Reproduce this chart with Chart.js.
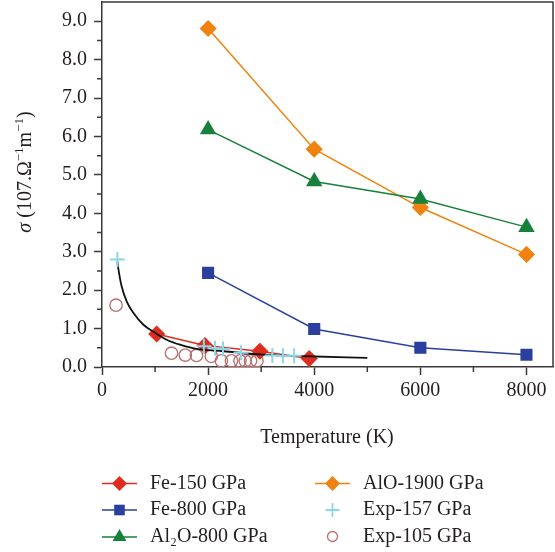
<!DOCTYPE html>
<html><head><meta charset="utf-8">
<script src="https://cdn.jsdelivr.net/npm/chart.js@4.4.1/dist/chart.umd.min.js"></script>
<style>html,body{margin:0;padding:0;background:#fff;}#wrap{width:555px;height:552px;position:relative;}</style>
</head><body><div id="wrap"><canvas id="c" width="555" height="552"></canvas></div>
<script>
// ---- data ----
const fe150T = [1030, 1940, 2975, 3905];
const fe150S = [0.86, 0.56, 0.41, 0.22];
const fe800T = [2000, 4000, 6000, 8000];
const fe800S = [2.45, 0.99, 0.50, 0.32];
const al2o800T = [2000, 4000, 6000, 8000];
const al2o800S = [6.18, 4.83, 4.37, 3.64];
const alo1900T = [2000, 4000, 6000, 8000];
const alo1900S = [8.81, 5.67, 4.15, 2.93];
const exp157T = [290, 1920, 2130, 2280, 2620, 3210, 3410, 3620];
const exp157S = [2.80, 0.54, 0.49, 0.47, 0.37, 0.30, 0.29, 0.29];
const exp105T = [265, 1310, 1570, 1780, 2060, 2250, 2440, 2600, 2700, 2800, 2920];
const exp105S = [1.61, 0.36, 0.31, 0.30, 0.28, 0.16, 0.16, 0.16, 0.16, 0.16, 0.16];
const fitT = [290, 310, 370, 465, 590, 780, 1000, 1220, 1470, 1780, 2290, 3040, 3860, 5000];
const fitS = [2.75, 2.54, 2.10, 1.71, 1.41, 1.10, 0.89, 0.71, 0.58, 0.47, 0.41, 0.32, 0.28, 0.235];
const xTickValues = [0, 2000, 4000, 6000, 8000];
const yTickValues = [0, 1, 2, 3, 4, 5, 6, 7, 8, 9];
const seriesNames = ['Fe-150 GPa', 'Fe-800 GPa', 'Al₂O-800 GPa', 'AlO-1900 GPa', 'Exp-157 GPa', 'Exp-105 GPa'];
const xTitle = 'Temperature (K)';

const pts = (xs, ys) => xs.map((x, i) => ({x: x, y: ys[i]}));
const SERIF = '"Liberation Serif", "Times New Roman", serif';
const AXIS = '#3a3a3a';
const TXT = '#231f20';

const C_RED = '#de2d1e', C_BLUE = '#2b3f9f', C_GREEN = '#17803a', C_ORANGE = '#f08210', C_CYAN = '#8ed6e6', C_ROSE = '#b9706e';

const datasets = [
  {label: 'fit', data: pts(fitT, fitS), showLine: true, borderColor: '#111', borderWidth: 1.8, pointRadius: 0, cubicInterpolationMode: 'monotone', order: 1},
  {label: seriesNames[4], data: pts(exp157T, exp157S), showLine: false, pointStyle: 'cross', pointRadius: 7.5, borderColor: C_CYAN, backgroundColor: C_CYAN, pointBorderWidth: 2, order: 0},
  {label: seriesNames[5], data: pts(exp105T, exp105S), showLine: false, pointStyle: 'circle', pointRadius: 6.2, borderColor: C_ROSE, backgroundColor: 'rgba(0,0,0,0)', pointBorderWidth: 1.4, order: 3},
  {label: seriesNames[0], data: pts(fe150T, fe150S), showLine: true, pointStyle: 'rectRot', pointRadius: 7.5, borderColor: C_RED, backgroundColor: C_RED, borderWidth: 1.5, order: 2},
  {label: seriesNames[1], data: pts(fe800T, fe800S), showLine: true, pointStyle: 'rect', pointRadius: 7.5, borderColor: C_BLUE, backgroundColor: C_BLUE, borderWidth: 1.5, order: 2},
  {label: seriesNames[2], data: pts(al2o800T, al2o800S), showLine: true, pointStyle: 'triangle', pointRadius: 8, borderColor: C_GREEN, backgroundColor: C_GREEN, borderWidth: 1.5, order: 2},
  {label: seriesNames[3], data: pts(alo1900T, alo1900S), showLine: true, pointStyle: 'rectRot', pointRadius: 7.5, borderColor: C_ORANGE, backgroundColor: C_ORANGE, borderWidth: 1.5, order: 2}
];

function drawMarker(ctx, style, x, y, r, color, lw) {
  ctx.save();
  ctx.strokeStyle = color; ctx.fillStyle = color; ctx.lineWidth = lw;
  ctx.beginPath();
  if (style === 'rectRot') { ctx.moveTo(x - r, y); ctx.lineTo(x, y - r); ctx.lineTo(x + r, y); ctx.lineTo(x, y + r); ctx.closePath(); ctx.fill(); }
  else if (style === 'rect') { const s = Math.SQRT1_2 * r; ctx.rect(x - s, y - s, 2 * s, 2 * s); ctx.fill(); }
  else if (style === 'triangle') { ctx.moveTo(x, y - r); ctx.lineTo(x + r * 0.866, y + r / 2); ctx.lineTo(x - r * 0.866, y + r / 2); ctx.closePath(); ctx.fill(); }
  else if (style === 'cross') { ctx.moveTo(x - r, y); ctx.lineTo(x + r, y); ctx.moveTo(x, y - r); ctx.lineTo(x, y + r); ctx.stroke(); }
  else if (style === 'circle') { ctx.arc(x, y, r, 0, Math.PI * 2); ctx.stroke(); }
  ctx.restore();
}

const decor = {
  id: 'decor',
  afterDraw(chart) {
    const ctx = chart.ctx, a = chart.chartArea, xs = chart.scales.x, ys = chart.scales.y;
    ctx.save();
    ctx.strokeStyle = AXIS; ctx.lineWidth = 1.5;
    ctx.beginPath();
    ctx.moveTo(a.left, a.top); ctx.lineTo(a.right, a.top); ctx.lineTo(a.right, a.bottom);
    ctx.stroke();
    ctx.beginPath();
    for (let v = 1000; v < xs.max; v += 2000) { const p = xs.getPixelForValue(v); ctx.moveTo(p, a.bottom); ctx.lineTo(p, a.bottom + 5); }
    for (let v = 0.5; v < ys.max; v += 1) { const p = ys.getPixelForValue(v); ctx.moveTo(a.left, p); ctx.lineTo(a.left - 5, p); }
    ctx.stroke();
    ctx.fillStyle = TXT;
    ctx.font = '20px ' + SERIF;
    ctx.textAlign = 'center'; ctx.textBaseline = 'middle';
    ctx.fillText(xTitle, 327, 438);
    ctx.translate(31, 172);
    ctx.rotate(-Math.PI / 2);
    ctx.textAlign = 'left'; ctx.textBaseline = 'alphabetic';
    const segs = [
      {t: 'σ', f: 'italic 20px ' + SERIF, dy: 0},
      {t: ' (107.Ω', f: '20px ' + SERIF, dy: 0},
      {t: '−1', f: '13px ' + SERIF, dy: -8},
      {t: 'm', f: '20px ' + SERIF, dy: 0},
      {t: '−1', f: '13px ' + SERIF, dy: -8},
      {t: ')', f: '20px ' + SERIF, dy: 0}
    ];
    let total = 0;
    segs.forEach(s => { ctx.font = s.f; s.w = ctx.measureText(s.t).width; total += s.w; });
    let cx = -total / 2;
    segs.forEach(s => { ctx.font = s.f; ctx.fillText(s.t, cx, s.dy); cx += s.w; });
    ctx.restore();

    ctx.save();
    const items = [
      {n: seriesNames[0], st: 'rectRot', c: C_RED, r: 7.5, line: true, x: 102, y: 483.5},
      {n: seriesNames[1], st: 'rect', c: C_BLUE, r: 7.5, line: true, x: 102, y: 510},
      {n: seriesNames[2], st: 'triangle', c: C_GREEN, r: 8, line: true, x: 102, y: 537},
      {n: seriesNames[3], st: 'rectRot', c: C_ORANGE, r: 7.5, line: true, x: 315, y: 483.5},
      {n: seriesNames[4], st: 'cross', c: C_CYAN, r: 7, line: false, x: 315, y: 510},
      {n: seriesNames[5], st: 'circle', c: C_ROSE, r: 5, line: false, x: 315, y: 536.5}
    ];
    items.forEach(it => {
      if (it.line) {
        ctx.strokeStyle = it.c; ctx.lineWidth = 1.5;
        ctx.beginPath(); ctx.moveTo(it.x, it.y); ctx.lineTo(it.x + 35, it.y); ctx.stroke();
      }
      drawMarker(ctx, it.st, it.x + 17.5, it.y, it.r, it.c, it.st === 'circle' ? 1.3 : 1.8);
      ctx.fillStyle = TXT; ctx.font = '20px ' + SERIF;
      ctx.textAlign = 'left'; ctx.textBaseline = 'middle';
      ctx.fillText(it.n, it.x + 48, it.y);
    });
    ctx.restore();
  }
};

new Chart(document.getElementById('c'), {
  type: 'scatter',
  data: {datasets: datasets},
  options: {
    responsive: false, animation: false, devicePixelRatio: 1,
    layout: {autoPadding: false, padding: {left: 0, right: 2, top: 2, bottom: 0}},
    plugins: {legend: {display: false}, tooltip: {enabled: false}},
    scales: {
      x: {
        type: 'linear', position: 'bottom', min: 0, max: 8500,
        afterBuildTicks: s => { s.ticks = xTickValues.map(v => ({value: v})); },
        afterFit: s => { s.height = 185; s.paddingLeft = 0; s.paddingRight = 0; },
        ticks: {font: {family: SERIF, size: 20}, color: TXT, padding: 4, maxRotation: 0, callback: v => String(v)},
        grid: {drawOnChartArea: false, drawTicks: true, tickLength: 8, color: AXIS, tickWidth: 1.5},
        border: {color: AXIS, width: 1.5}
      },
      y: {
        type: 'linear', min: 0, max: 9.5,
        afterBuildTicks: s => { s.ticks = yTickValues.map(v => ({value: v})); },
        afterFit: s => { s.width = 102; s.paddingTop = 0; s.paddingBottom = 0; },
        ticks: {font: {family: SERIF, size: 20}, color: TXT, padding: 7, callback: v => v.toFixed(1)},
        grid: {drawOnChartArea: false, drawTicks: true, tickLength: 8, color: AXIS, tickWidth: 1.5},
        border: {color: AXIS, width: 1.5}
      }
    }
  },
  plugins: [decor]
});
</script></body></html>
